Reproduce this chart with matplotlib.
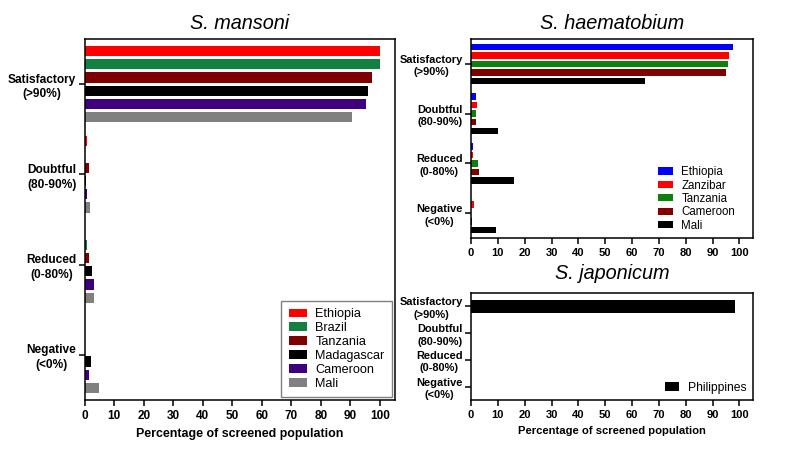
import matplotlib.pyplot as plt
import numpy as np

plt.rcParams["font.family"] = ["Liberation Sans", "DejaVu Sans"]

categories = ["Satisfactory\n(>90%)", "Doubtful\n(80-90%)", "Reduced\n(0-80%)", "Negative\n(<0%)"]

# S. mansoni: percentage of screened population per category
mansoni_countries = ["Ethiopia", "Brazil", "Tanzania", "Madagascar", "Cameroon", "Mali"]
mansoni_colors = ["#ff0000", "#128040", "#7f0000", "#000000", "#3f007f", "#808080"]
mansoni_values = [
    [100.0, 0.7, 0.0, 0.0],   # Ethiopia
    [100.0, 0.0, 0.7, 0.0],   # Brazil
    [97.3, 1.5, 1.5, 0.0],    # Tanzania
    [95.8, 0.4, 2.5, 2.2],    # Madagascar
    [95.2, 0.8, 3.2, 1.5],    # Cameroon
    [90.5, 1.8, 3.0, 5.0],    # Mali
]

# S. haematobium
haem_countries = ["Ethiopia", "Zanzibar", "Tanzania", "Cameroon", "Mali"]
haem_colors = ["#0000ff", "#ff0000", "#0e800e", "#800000", "#000000"]
haem_values = [
    [97.5, 1.9, 0.9, 0.0],    # Ethiopia
    [96.0, 2.2, 0.9, 1.0],    # Zanzibar
    [95.8, 1.8, 2.7, 0.0],    # Tanzania
    [95.0, 1.9, 3.0, 0.3],    # Cameroon
    [64.8, 9.9, 16.0, 9.2],   # Mali
]

# S. japonicum
jap_countries = ["Philippines"]
jap_colors = ["#000000"]
jap_values = [
    [98.4, 0.0, 0.0, 0.0],
]

xticks = np.arange(0, 101, 10)


def grouped_barh(ax, names, colors, values, step, height):
    y = np.arange(len(categories))
    n = len(names)
    for i, (name, color, vals) in enumerate(zip(names, colors, values)):
        offset = (i - (n - 1) / 2) * step
        ax.barh(y + offset, vals, height=height, color=color, label=name,
                edgecolor="none")
    ax.set_ylim(3.5, -0.5)
    ax.set_xlim(0, 105)
    ax.set_xticks(xticks)
    ax.set_yticks(y)
    for s in ax.spines.values():
        s.set_linewidth(1.1)
    ax.tick_params(axis="both", direction="out", length=4, width=1.1)
    ax.tick_params(axis="y", pad=2)


def style_ticks(ax, ysize, xsize):
    ax.set_yticklabels(categories, fontsize=ysize, fontweight="bold",
                       ha="right", multialignment="center", linespacing=1.3)
    for lab in ax.get_xticklabels():
        lab.set_fontsize(xsize)
        lab.set_fontweight("bold")


fig = plt.figure(figsize=(7.87, 4.53), dpi=100)

# left panel
ax1 = fig.add_axes([0.1076, 0.117, 0.394, 0.797])
grouped_barh(ax1, mansoni_countries, mansoni_colors, mansoni_values, 0.147, 0.115)
style_ticks(ax1, 8.6, 8.5)
ax1.set_xlabel("Percentage of screened population", fontsize=8.9, fontweight="bold")
ax1.set_title("S. mansoni", fontsize=14.3, style="italic", pad=7)
leg = ax1.legend(loc="lower right", fontsize=9.1, frameon=True, fancybox=False,
                 handlelength=1.4, handleheight=0.7, labelspacing=0.15,
                 handletextpad=0.7, borderpad=0.6, borderaxespad=0.2,
                 edgecolor="#606060")
leg.get_frame().set_linewidth(1.0)

# right top panel
ax2 = fig.add_axes([0.5985, 0.4746, 0.358, 0.439])
grouped_barh(ax2, haem_countries, haem_colors, haem_values, 0.172, 0.13)
style_ticks(ax2, 7.9, 8)
ax2.set_title("S. haematobium", fontsize=14.3, style="italic", pad=7)
ax2.legend(loc="lower right", bbox_to_anchor=(0.96, 0.0), fontsize=8.3,
           frameon=False, handlelength=1.3, handleheight=0.6, labelspacing=0.12,
           handletextpad=0.75, borderaxespad=0.15)

# right bottom panel
ax3 = fig.add_axes([0.5985, 0.117, 0.358, 0.236])
grouped_barh(ax3, jap_countries, jap_colors, jap_values, 0.0, 0.52)
style_ticks(ax3, 7.9, 8)
ax3.set_xlabel("Percentage of screened population", fontsize=8.1, fontweight="bold")
ax3.set_title("S. japonicum", fontsize=14.3, style="italic", pad=10)
ax3.legend(loc="lower right", fontsize=8.7, frameon=False, handlelength=1.2,
           handleheight=0.7, handletextpad=0.75, borderaxespad=0.1)

fig.savefig("out.png", dpi=100)
